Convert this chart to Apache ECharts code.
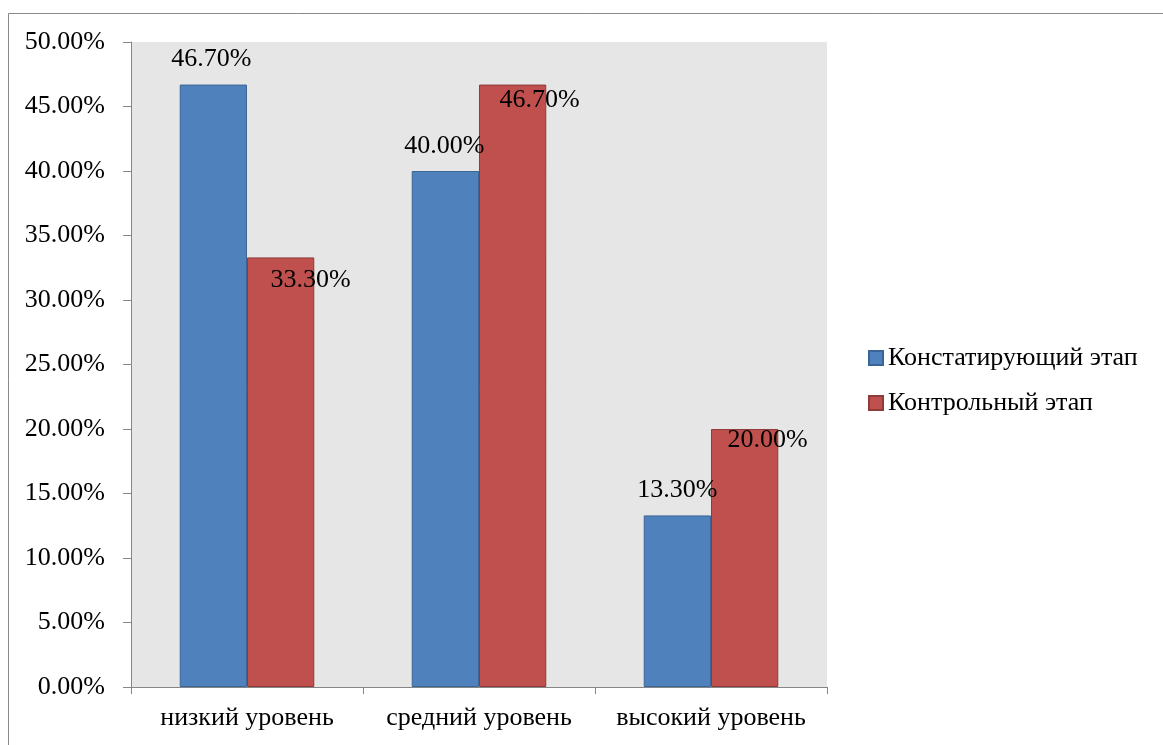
<!DOCTYPE html>
<html>
<head>
<meta charset="utf-8">
<script src="https://cdn.jsdelivr.net/npm/echarts@6/dist/echarts.min.js"></script>
<style>
html,body{margin:0;padding:0;background:#fff;}
#chart{width:1163px;height:745px;}
</style>
</head>
<body>
<div id="chart"></div>
<script>
var categories = ['низкий уровень', 'средний уровень', 'высокий уровень'];
var seriesNames = ['Констатирующий этап', 'Контрольный этап'];
var valuesStage1 = [46.7, 40.0, 13.3];
var valuesStage2 = [33.3, 46.7, 20.0];
var yTicks = [0, 50, 5];

var FONT = '"Liberation Serif", "Times New Roman", serif';
var FS = 26;

// label offsets (styling) per point, relative to 'top' position
var offs1 = [[-2, -12], [-1, -12], [0, -12]];
var offs2 = [[30, 36], [27, 29], [23, 24]];

function mk(vals, offs) {
  return vals.map(function (v, i) {
    return { value: v, label: { offset: offs[i] } };
  });
}

var chart = echarts.init(document.getElementById('chart'), null, { renderer: 'canvas' });
chart.setOption({
  animation: false,
  backgroundColor: '#ffffff',
  textStyle: { fontFamily: FONT },
  graphic: [{
    type: 'rect',
    shape: { x: 8.5, y: 13.5, width: 1200, height: 800 },
    style: { fill: 'none', stroke: '#8a8a8a', lineWidth: 1 },
    silent: true
  }],
  grid: {
    left: 131, top: 42, right: 336, bottom: 58,
    containLabel: false,
    outerBoundsMode: 'none',
    show: true,
    backgroundColor: '#e6e6e6',
    borderWidth: 0
  },
  legend: {
    orient: 'vertical',
    left: 863,
    top: 340,
    itemWidth: 14,
    itemHeight: 14,
    itemGap: 19,
    icon: 'rect',
    textStyle: { fontFamily: FONT, fontSize: FS, color: '#000' },
    data: seriesNames
  },
  xAxis: {
    type: 'category',
    data: categories,
    axisLine: { lineStyle: { color: '#868686', width: 1 } },
    axisTick: { show: true, length: 7, alignWithLabel: false, lineStyle: { color: '#868686' } },
    axisLabel: { color: '#000', fontFamily: FONT, fontSize: FS, margin: 18, interval: 0, hideOverlap: false },
    splitLine: { show: false }
  },
  yAxis: {
    type: 'value',
    min: yTicks[0], max: yTicks[1], interval: yTicks[2],
    axisLine: { show: true, lineStyle: { color: '#868686', width: 1 } },
    axisTick: { show: true, length: 8, lineStyle: { color: '#868686' } },
    axisLabel: {
      color: '#000', fontFamily: FONT, fontSize: FS, margin: 26,
      formatter: function (v) { return v.toFixed(2) + '%'; }
    },
    splitLine: { show: false }
  },
  series: [{
    name: seriesNames[0],
    type: 'bar',
    barGap: '0%',
    barCategoryGap: '42%',
    data: mk(valuesStage1, offs1),
    itemStyle: { color: '#4f81bd', borderColor: '#3a6595', borderWidth: 1 },
    label: {
      show: true, position: 'top', distance: 0,
      color: '#000', fontFamily: FONT, fontSize: FS,
      formatter: function (p) { return p.value.toFixed(2) + '%'; }
    }
  }, {
    name: seriesNames[1],
    type: 'bar',
    barGap: '0%',
    barCategoryGap: '42%',
    data: mk(valuesStage2, offs2),
    itemStyle: { color: '#c0504d', borderColor: '#8e3b39', borderWidth: 1 },
    label: {
      show: true, position: 'top', distance: 0,
      color: '#000', fontFamily: FONT, fontSize: FS,
      formatter: function (p) { return p.value.toFixed(2) + '%'; }
    }
  }]
});
</script>
</body>
</html>
